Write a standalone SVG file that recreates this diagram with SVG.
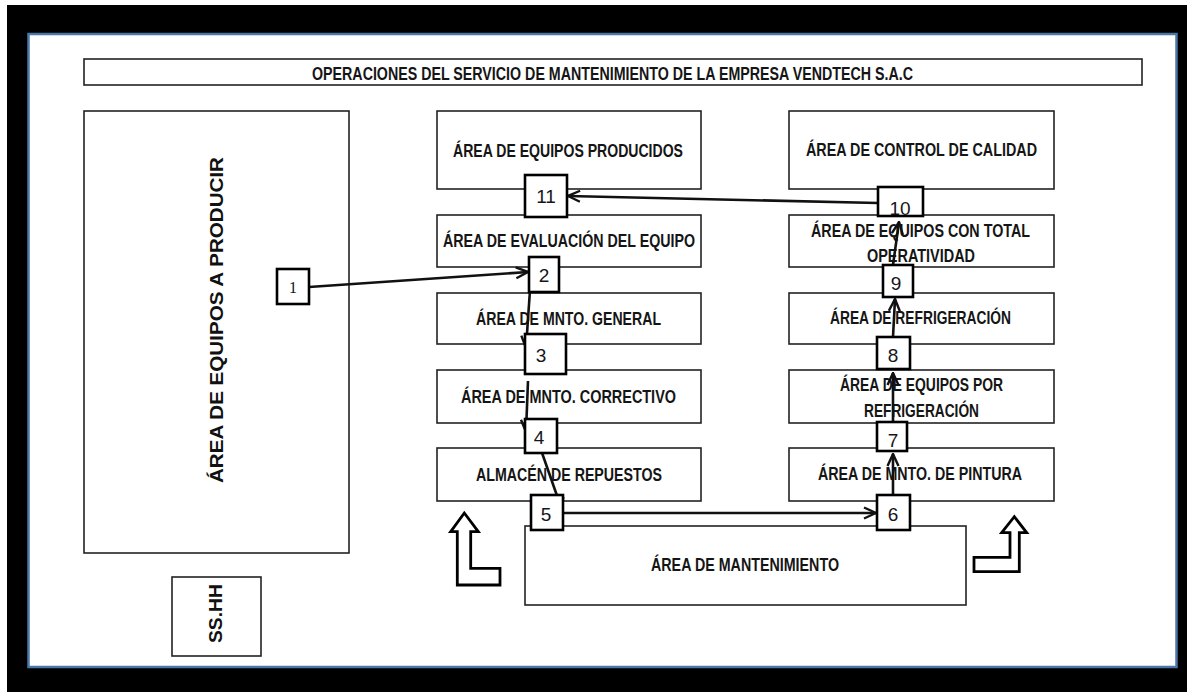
<svg xmlns="http://www.w3.org/2000/svg" width="1187" height="692" viewBox="0 0 1187 692">
<defs>
<style>
.area{fill:#fff;stroke:#222;stroke-width:1.6}
.num{fill:#fff;stroke:#000;stroke-width:2.6}
.lbl{font-family:"Liberation Sans Narrow","Liberation Sans",Arial,sans-serif;font-weight:bold;font-size:19px;fill:#151515}
.n{font-family:"Liberation Sans Narrow","Liberation Sans",Arial,sans-serif;font-size:19px;fill:#151520;text-anchor:middle}
.vert{font-family:"Liberation Sans",Arial,sans-serif;font-weight:bold;font-size:19px;fill:#111}
.con{fill:none;stroke:#111;stroke-width:2.6}
.blk{fill:#fff;stroke:#000;stroke-width:2.8;stroke-linejoin:miter}
</style>
<marker id="ah" viewBox="0 0 14 14" refX="13" refY="7" markerWidth="14" markerHeight="14" markerUnits="userSpaceOnUse" orient="auto">
<path d="M1,1.5 L13,7 L1,12.5" fill="none" stroke="#111" stroke-width="2.4"/>
</marker>
</defs>
<rect x="0" y="0" width="1187" height="692" fill="#fff"/>
<rect x="7" y="5" width="1180" height="687" fill="#000"/>
<rect x="28.5" y="34" width="1148" height="633" fill="#fff" stroke="#4a76a8" stroke-width="2.5"/>

<g id="title">
<rect x="84" y="59" width="1058" height="26" class="area"/>
<text class="lbl" x="312" y="80" textLength="601" lengthAdjust="spacingAndGlyphs" font-size="18">OPERACIONES DEL SERVICIO DE MANTENIMIENTO DE LA EMPRESA VENDTECH S.A.C</text>
</g>

<g id="area-producir">
<rect x="84" y="111" width="265" height="442" class="area"/>
<text class="vert" transform="translate(223,483) rotate(-90)" x="0" y="0" textLength="326" lengthAdjust="spacingAndGlyphs">ÁREA DE EQUIPOS A PRODUCIR</text>
</g>
<g id="sshh">
<rect x="172" y="577" width="89" height="79" class="area"/>
<text class="vert" font-size="16" transform="translate(222,643) rotate(-90)" x="0" y="0" textLength="59" lengthAdjust="spacingAndGlyphs">SS.HH</text>
</g>

<g id="area-producidos">
<rect x="437" y="111" width="264" height="78" class="area"/>
<text class="lbl" x="453" y="157" textLength="230" lengthAdjust="spacingAndGlyphs">ÁREA DE EQUIPOS PRODUCIDOS</text>
</g>
<g id="area-evaluacion">
<rect x="437" y="215" width="264" height="52" class="area"/>
<text class="lbl" x="443" y="247" textLength="252" lengthAdjust="spacingAndGlyphs">ÁREA DE EVALUACIÓN DEL EQUIPO</text>
</g>
<g id="area-general">
<rect x="437" y="293" width="264" height="51" class="area"/>
<text class="lbl" x="476" y="325" textLength="185" lengthAdjust="spacingAndGlyphs">ÁREA DE MNTO. GENERAL</text>
</g>
<g id="area-correctivo">
<rect x="437" y="370" width="264" height="53" class="area"/>
<text class="lbl" x="461" y="403" textLength="215" lengthAdjust="spacingAndGlyphs">ÁREA DE MNTO. CORRECTIVO</text>
</g>
<g id="almacen">
<rect x="437" y="448" width="264" height="53" class="area"/>
<text class="lbl" x="476" y="481" textLength="186" lengthAdjust="spacingAndGlyphs">ALMACÉN DE REPUESTOS</text>
</g>
<g id="area-mantenimiento">
<rect x="525" y="526" width="441" height="79" class="area"/>
<text class="lbl" x="651" y="571" textLength="188" lengthAdjust="spacingAndGlyphs">ÁREA DE MANTENIMIENTO</text>
</g>

<g id="area-calidad">
<rect x="789" y="111" width="265" height="78" class="area"/>
<text class="lbl" x="806" y="156" textLength="231" lengthAdjust="spacingAndGlyphs">ÁREA DE CONTROL DE CALIDAD</text>
</g>
<g id="area-operatividad">
<rect x="789" y="215" width="265" height="52" class="area"/>
<text class="lbl" x="811" y="237" textLength="219" lengthAdjust="spacingAndGlyphs">ÁREA DE EQUIPOS CON TOTAL</text>
<text class="lbl" x="867" y="262" textLength="108" lengthAdjust="spacingAndGlyphs">OPERATIVIDAD</text>
</g>
<g id="area-refrigeracion">
<rect x="789" y="293" width="265" height="51" class="area"/>
<text class="lbl" x="830" y="324" textLength="181" lengthAdjust="spacingAndGlyphs">ÁREA DE REFRIGERACIÓN</text>
</g>
<g id="area-por-refrigeracion">
<rect x="789" y="370" width="265" height="53" class="area"/>
<text class="lbl" x="840" y="391" textLength="163" lengthAdjust="spacingAndGlyphs">ÁREA DE EQUIPOS POR</text>
<text class="lbl" x="864" y="417" textLength="115" lengthAdjust="spacingAndGlyphs">REFRIGERACIÓN</text>
</g>
<g id="area-pintura">
<rect x="789" y="448" width="265" height="53" class="area"/>
<text class="lbl" x="818" y="480" textLength="204" lengthAdjust="spacingAndGlyphs">ÁREA DE MNTO. DE PINTURA</text>
</g>

<g id="connectors">
<line class="con" x1="309" y1="287" x2="528" y2="272" marker-end="url(#ah)"/>
<line class="con" x1="530" y1="290" x2="526" y2="348" marker-end="url(#ah)"/>
<line class="con" x1="528" y1="381" x2="526" y2="432" marker-end="url(#ah)"/>
<line class="con" x1="541" y1="450" x2="562" y2="510" marker-end="url(#ah)"/>
<line class="con" x1="563" y1="513" x2="876" y2="513" stroke-width="3" marker-end="url(#ah)"/>
<line class="con" x1="893" y1="495" x2="893" y2="454" marker-end="url(#ah)"/>
<line class="con" x1="893" y1="422" x2="893" y2="373" marker-end="url(#ah)"/>
<line class="con" x1="893" y1="337" x2="895" y2="299" marker-end="url(#ah)"/>
<line class="con" x1="893" y1="265" x2="899" y2="222" marker-end="url(#ah)"/>
<line class="con" x1="878" y1="203" x2="568" y2="196" marker-end="url(#ah)"/>
</g>

<g id="n1"><rect x="277" y="269" width="32" height="35" class="num" stroke-width="2"/><text x="293" y="293" text-anchor="middle" font-family="Liberation Serif,serif" font-size="16" fill="#111">1</text></g>
<g id="n2"><rect x="529" y="257" width="30" height="35" class="num"/><text class="n" x="544" y="282">2</text></g>
<g id="n3"><rect x="525" y="334" width="41" height="40" class="num"/><text class="n" x="541" y="362">3</text></g>
<g id="n4"><rect x="525" y="419" width="32" height="34" class="num"/><text class="n" x="539" y="444">4</text></g>
<g id="n5"><rect x="531" y="495" width="32" height="35" class="num"/><text class="n" x="546" y="521">5</text></g>
<g id="n6"><rect x="877" y="495" width="33" height="35" class="num"/><text class="n" x="893" y="521">6</text></g>
<g id="n7"><rect x="877" y="422" width="30" height="29" class="num"/><text class="n" x="893" y="447">7</text></g>
<g id="n8"><rect x="877" y="337" width="33" height="32" class="num"/><text class="n" x="893" y="362">8</text></g>
<g id="n9"><rect x="883" y="265" width="30" height="32" class="num"/><text class="n" x="896" y="290">9</text></g>
<g id="n10"><rect x="878" y="187" width="45" height="29" class="num"/><text class="n" x="900" y="215">10</text></g>
<g id="n11"><rect x="525" y="175" width="42" height="42" class="num"/><text class="n" x="546" y="203">11</text></g>

<g id="block-arrow-left">
<polygon class="blk" points="464.3,513 478.3,531.7 470.7,531.7 470.7,568.3 500,568.3 500,585 457.3,585 457.3,531.7 450.7,531.7"/>
</g>
<g id="block-arrow-right">
<polygon class="blk" points="1014.3,516.7 1026.7,532.7 1019.3,532.7 1019.3,571.7 974,571.7 974,557.3 1010,557.3 1010,532.7 1001.7,532.7"/>
</g>
</svg>
